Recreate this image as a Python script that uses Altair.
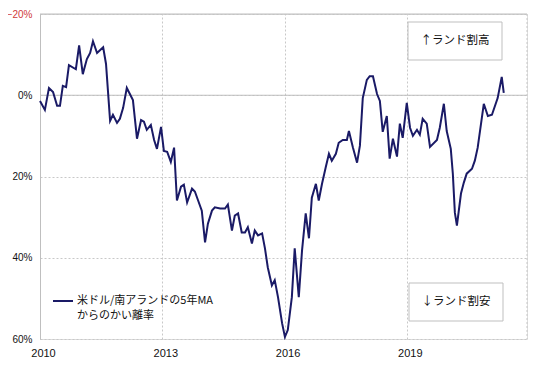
import altair as alt
import pandas as pd

# Decimal-year positions and deviation (%) of USD/ZAR from its 5-year MA
years = [
    2010.00, 2010.12, 2010.22, 2010.32, 2010.42, 2010.49, 2010.56, 2010.64, 2010.71, 2010.88,
    2010.96, 2011.05, 2011.15, 2011.23, 2011.30, 2011.40, 2011.55, 2011.62, 2011.72, 2011.79,
    2011.89, 2011.96, 2012.04, 2012.13, 2012.28, 2012.38, 2012.48, 2012.55, 2012.62, 2012.72,
    2012.80, 2012.87, 2012.97, 2013.04, 2013.12, 2013.21, 2013.29, 2013.36, 2013.46, 2013.53,
    2013.61, 2013.73, 2013.80, 2013.88, 2013.97, 2014.05, 2014.12, 2014.22, 2014.29, 2014.42,
    2014.54, 2014.61, 2014.71, 2014.78, 2014.86, 2014.95, 2015.03, 2015.10, 2015.20, 2015.27,
    2015.35, 2015.45, 2015.52, 2015.59, 2015.69, 2015.76, 2015.84, 2015.94, 2016.01, 2016.08,
    2016.18, 2016.25, 2016.35, 2016.43, 2016.52, 2016.60, 2016.67, 2016.77, 2016.84, 2016.92,
    2017.01, 2017.09, 2017.16, 2017.26, 2017.33, 2017.43, 2017.53, 2017.58, 2017.68, 2017.78,
    2017.85, 2017.92, 2018.02, 2018.09, 2018.17, 2018.27, 2018.34, 2018.41, 2018.51, 2018.58,
    2018.66, 2018.76, 2018.83, 2018.90, 2019.00, 2019.08, 2019.15, 2019.25, 2019.32, 2019.39,
    2019.49, 2019.57, 2019.74, 2019.81, 2019.91, 2019.98, 2020.08, 2020.13, 2020.18, 2020.23,
    2020.33, 2020.40, 2020.47, 2020.60, 2020.67, 2020.74, 2020.89, 2020.99, 2021.09, 2021.23,
    2021.33, 2021.38,
]
deviation = [
    1.4, 3.6, -1.8, -0.8, 2.6, 2.6, -2.3, -2.0, -7.4, -6.4,
    -12.3, -5.2, -8.9, -10.4, -13.3, -10.4, -11.8, -7.7, 6.3, 4.8,
    6.8, 5.8, 3.1, -1.8, 1.2, 10.7, 6.1, 6.5, 8.5, 7.3,
    11.0, 13.2, 7.8, 13.7, 13.9, 16.4, 12.9, 25.9, 22.5, 22.0,
    26.4, 23.0, 23.7, 25.9, 28.4, 36.2, 31.6, 28.4, 27.6, 27.9,
    27.9, 26.9, 33.3, 29.6, 29.1, 33.8, 33.8, 32.5, 36.5, 33.3,
    34.5, 34.0, 37.7, 42.4, 46.8, 45.5, 49.7, 56.1, 59.5, 57.8,
    49.7, 37.7, 49.7, 38.2, 29.1, 35.2, 25.2, 21.8, 25.9, 21.8,
    17.8, 14.4, 16.1, 14.4, 11.7, 11.0, 11.0, 8.8, 12.9, 16.6,
    12.4, 0.7, -3.8, -4.7, -4.7, -0.3, 1.4, 9.0, 5.1, 15.6,
    10.7, 15.1, 7.0, 10.5, 1.9, 8.0, 10.0, 8.5, 9.7, 5.8,
    7.0, 12.7, 11.0, 8.0, 2.1, 8.8, 13.2, 19.3, 28.9, 32.1,
    24.2, 21.5, 19.3, 18.1, 16.1, 12.9, 2.1, 5.1, 4.8, 0.7,
    -4.5, -0.6,
]

tick_years = [2010, 2013, 2016, 2019]
y_ticks = [-20, 0, 20, 40, 60]
x_domain = [2010, 2021.95]
y_domain = [-20, 60]
series_label = ["米ドル/南アランドの5年MA", "からのかい離率"]
note_high = "↑ランド割高"
note_low = "↓ランド割安"

df = pd.DataFrame({"year": years, "dev": deviation})

W, H = 487, 325
LINE_COLOR = "#1a1a66"
GRID = "#c8c8c8"
JP_FONT = "Noto Sans CJK JP"

x_scale = alt.Scale(domain=x_domain, nice=False, zero=False)
y_scale = alt.Scale(domain=y_domain, reverse=True, nice=False, zero=False)

x_enc = alt.X(
    "year:Q", scale=x_scale, title=None,
    axis=alt.Axis(values=tick_years, format="d", grid=True, gridDash=[2, 2],
                  gridColor=GRID, domain=False, ticks=False, labelFontSize=11,
                  labelFont="Liberation Sans", labelColor="#111111",
                  labelPadding=8, labelOffset=3, labelFlush=False, labelBaseline="top"),
)
y_enc = alt.Y(
    "dev:Q", scale=y_scale, title=None,
    axis=alt.Axis(values=y_ticks, grid=True, gridDash=[2, 2], gridColor=GRID,
                  domain=True, domainColor="#bfbfbf", ticks=False,
                  labelExpr="replace(datum.value + '%', '-', '\u2212')", labelFontSize=10,
                  labelFont="Liberation Sans",
                  labelColor=alt.expr("datum.value < 0 ? '#d03a3a' : '#111111'"),
                  labelPadding=8),
)

line = alt.Chart(df).mark_line(color=LINE_COLOR, strokeWidth=2).encode(x=x_enc, y=y_enc)

solid_rules = alt.Chart(pd.DataFrame({"dev": [y_domain[0], 0]})).mark_rule(
    color="#bfbfbf", strokeWidth=1
).encode(y=alt.Y("dev:Q", scale=y_scale))

right_edge = alt.Chart(pd.DataFrame({"year": [x_domain[1]]})).mark_rule(
    color=GRID, strokeDash=[2, 2], strokeWidth=1
).encode(x=alt.X("year:Q", scale=x_scale))

box_high = alt.Chart(pd.DataFrame({"t": [note_high]})).mark_rect(
    fill="white", stroke="#bfbfbf", strokeWidth=1
).encode(x=alt.value(368), x2=alt.value(462), y=alt.value(8), y2=alt.value(46))
text_high = alt.Chart(pd.DataFrame({"t": [note_high]})).mark_text(
    font=JP_FONT, fontSize=11.5, color="#111111", align="center", baseline="middle"
).encode(x=alt.value(415), y=alt.value(27), text="t:N")

box_low = alt.Chart(pd.DataFrame({"t": [note_low]})).mark_rect(
    fill="white", stroke="#bfbfbf", strokeWidth=1
).encode(x=alt.value(369), x2=alt.value(463), y=alt.value(269), y2=alt.value(307))
text_low = alt.Chart(pd.DataFrame({"t": [note_low]})).mark_text(
    font=JP_FONT, fontSize=11.5, color="#111111", align="center", baseline="middle"
).encode(x=alt.value(416), y=alt.value(288), text="t:N")

legend_rule = alt.Chart(pd.DataFrame({"t": [series_label[0]]})).mark_rule(
    color=LINE_COLOR, strokeWidth=2
).encode(x=alt.value(13), x2=alt.value(33), y=alt.value(287))
legend_l1 = alt.Chart(pd.DataFrame({"t": [series_label[0]]})).mark_text(
    font=JP_FONT, fontSize=11, color="#111111", align="left", baseline="middle"
).encode(x=alt.value(37), y=alt.value(287), text="t:N")
legend_l2 = alt.Chart(pd.DataFrame({"t": [series_label[1]]})).mark_text(
    font=JP_FONT, fontSize=11, color="#111111", align="left", baseline="middle"
).encode(x=alt.value(37), y=alt.value(302), text="t:N")

chart = alt.layer(
    solid_rules, right_edge, line, box_high, text_high, box_low, text_low,
    legend_rule, legend_l1, legend_l2,
).properties(
    width=W, height=H,
    autosize=alt.AutoSizeParams(type="none"),
    padding={"left": 32, "top": 6, "right": 5, "bottom": 19},
).configure_view(stroke=None).configure(background="white")

chart.save("out.html", embed_options={"renderer": "svg", "actions": False})
